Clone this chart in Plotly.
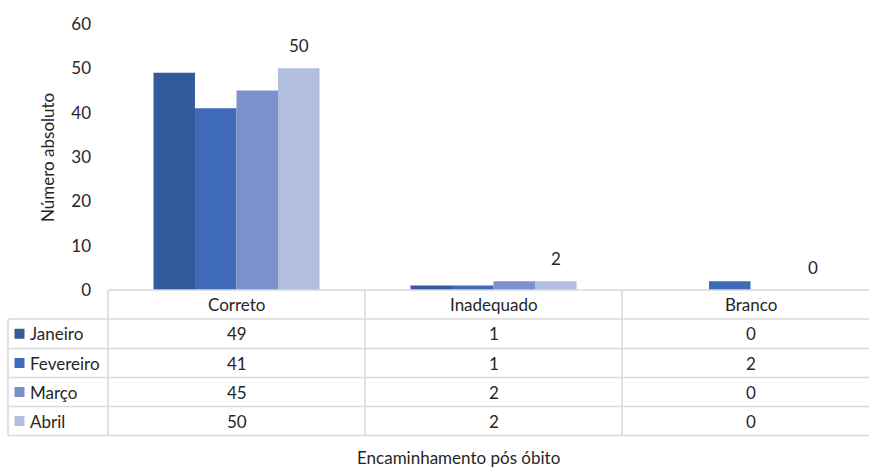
import plotly.graph_objects as go

categories = ["Correto", "Inadequado", "Branco"]
series_names = ["Janeiro", "Fevereiro", "Março", "Abril"]
janeiro = [49, 1, 0]
fevereiro = [41, 1, 2]
marco = [45, 2, 0]
abril = [50, 2, 0]
series_values = [janeiro, fevereiro, marco, abril]
colors = ["#335A9A", "#3F6AB8", "#7A91CE", "#B2BEDF"]
y_ticks = [0, 10, 20, 30, 40, 50, 60]
y_title = "Número absoluto"
x_title = "Encaminhamento pós óbito"

W, H = 869, 468
L, R, T, B = 108, 0, 24, 178
PW = W - L - R
PH = H - T - B
FONT = "Lato, 'Open Sans', sans-serif"
FS = 17
TXT = "#262626"
GRID = "#D9D9D9"
BARGAP = 0.354

def px(x):
    return (x - L) / PW

def py(y):
    return (H - B - y) / PH

fig = go.Figure()
xi = list(range(len(categories)))
for i, (name, vals) in enumerate(zip(series_names, series_values)):
    fig.add_trace(go.Bar(
        x=xi, y=vals, name=name,
        marker=dict(color=colors[i], line=dict(width=0)),
        showlegend=False,
    ))

col_w = 257
xmax = len(categories) - 0.5 - (L + col_w * len(categories) - W) / col_w

fig.update_layout(
    width=W, height=H,
    margin=dict(l=L, r=R, t=T, b=B),
    paper_bgcolor="white", plot_bgcolor="white",
    barmode="group", bargap=BARGAP, bargroupgap=0,
    font=dict(family=FONT, size=FS, color=TXT),
    xaxis=dict(range=[-0.5, xmax], showticklabels=False, showgrid=False,
               zeroline=False, showline=False, ticks=""),
    yaxis=dict(range=[0, 60], tickvals=y_ticks, showgrid=False, zeroline=False,
               showline=False, ticks="", ticklabelstandoff=16,
               tickfont=dict(family=FONT, size=FS, color=TXT)),
)

shapes = []
annotations = []

n = len(series_names)
bw = (1 - BARGAP) / n
last_off = -(1 - BARGAP) / 2 + bw * (n - 0.5)
for k, v in enumerate(abril):
    annotations.append(dict(text=str(v), x=k + last_off, y=v, xref="x", yref="y",
                            showarrow=False, xanchor="center", yanchor="bottom", yshift=10,
                            font=dict(family=FONT, size=FS, color=TXT)))

line = dict(color=GRID, width=1.5)
row_y = [290, 319, 348.5, 377.5, 406.5, 435.5]
shapes.append(dict(type="line", xref="paper", yref="paper",
                   x0=px(108), x1=px(W), y0=py(row_y[0]), y1=py(row_y[0]), line=line))
for yv in row_y[1:]:
    shapes.append(dict(type="line", xref="paper", yref="paper",
                       x0=px(8), x1=px(W), y0=py(yv), y1=py(yv), line=line))
shapes.append(dict(type="line", xref="paper", yref="paper",
                   x0=px(8), x1=px(8), y0=py(row_y[1]), y1=py(row_y[-1]), line=line))
for k in range(len(categories)):
    xv = 108 + k * col_w
    shapes.append(dict(type="line", xref="paper", yref="paper",
                       x0=px(xv), x1=px(xv), y0=py(row_y[0]), y1=py(row_y[-1]), line=line))

for k, c in enumerate(categories):
    cx = 108 + col_w * (k + 0.5)
    annotations.append(dict(text=c, x=px(cx), y=py((row_y[0] + row_y[1]) / 2),
                            xref="paper", yref="paper", showarrow=False,
                            xanchor="center", yanchor="middle",
                            font=dict(family=FONT, size=FS, color=TXT)))
for r, (name, vals) in enumerate(zip(series_names, series_values)):
    cy = (row_y[r + 1] + row_y[r + 2]) / 2
    shapes.append(dict(type="rect", xref="paper", yref="paper",
                       x0=px(14.5), x1=px(24.5), y0=py(cy - 5), y1=py(cy + 5),
                       fillcolor=colors[r], line=dict(width=0)))
    annotations.append(dict(text=name, x=px(28), y=py(cy), xref="paper", yref="paper",
                            showarrow=False, xanchor="left", yanchor="middle",
                            font=dict(family=FONT, size=FS, color=TXT)))
    for k, v in enumerate(vals):
        cx = 108 + col_w * (k + 0.5)
        annotations.append(dict(text=str(v), x=px(cx), y=py(cy), xref="paper", yref="paper",
                                showarrow=False, xanchor="center", yanchor="middle",
                                font=dict(family=FONT, size=FS, color=TXT)))

annotations.append(dict(text=x_title, x=px(458), y=py(457), xref="paper", yref="paper",
                        showarrow=False, xanchor="center", yanchor="middle",
                        font=dict(family=FONT, size=FS, color=TXT)))
annotations.append(dict(text=y_title, x=px(47), y=py(158), xref="paper", yref="paper",
                        showarrow=False, xanchor="center", yanchor="middle", textangle=-90,
                        font=dict(family=FONT, size=FS, color=TXT)))

fig.update_layout(shapes=shapes, annotations=annotations)
fig.write_html("out.html", config={"displayModeBar": False},
               post_script="document.body.style.margin='0';")
